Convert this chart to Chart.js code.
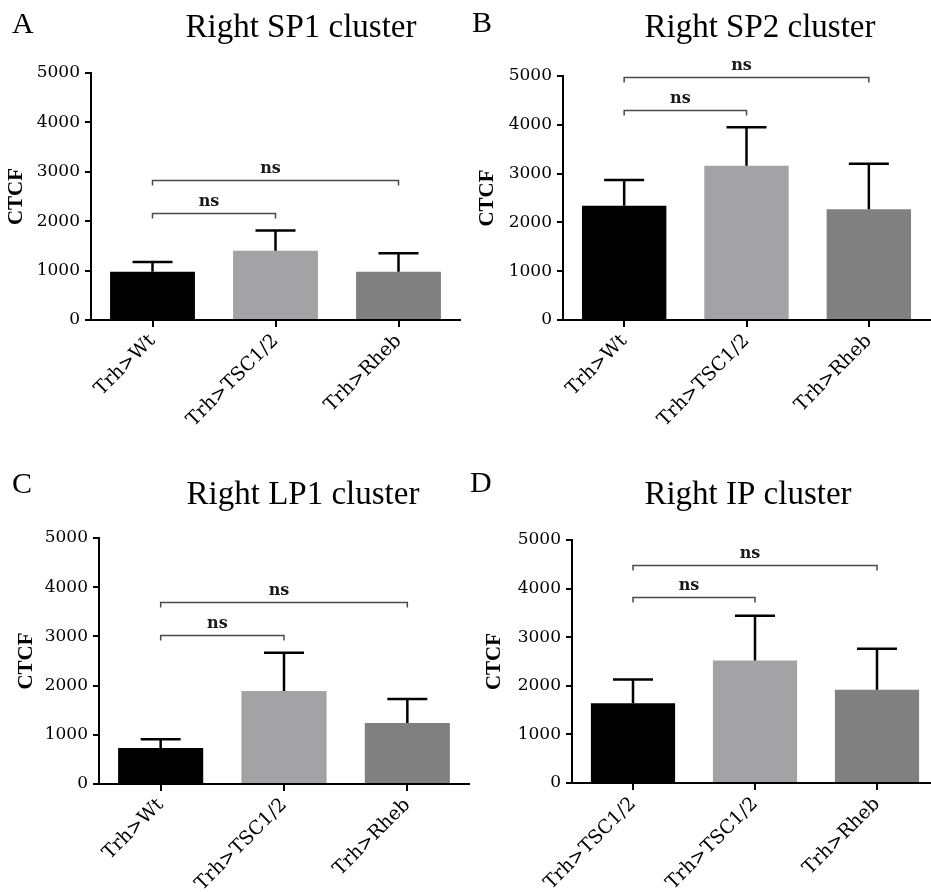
<!DOCTYPE html>
<html>
<head>
<meta charset="utf-8">
<script src="https://cdn.jsdelivr.net/npm/chart.js@4.4.1/dist/chart.umd.min.js"></script>
<style>
  html, body { margin: 0; padding: 0; background: #fff; overflow: hidden; width: 931px; height: 892px; }
  .panel { position: absolute; }
  .panel canvas { display: block; }
</style>
</head>
<body>
<div class="panel" id="boxA"><canvas id="chartA"></canvas></div>
<div class="panel" id="boxB"><canvas id="chartB"></canvas></div>
<div class="panel" id="boxC"><canvas id="chartC"></canvas></div>
<div class="panel" id="boxD"><canvas id="chartD"></canvas></div>
<script>
// ---- data ----
const groupsWt   = ['Trh>Wt', 'Trh>TSC1/2', 'Trh>Rheb'];
const groupsIP   = ['Trh>TSC1/2', 'Trh>TSC1/2', 'Trh>Rheb'];
const yTickValues = [0, 1000, 2000, 3000, 4000, 5000];

// mean CTCF and upward error per group
const sp1Mean = [975, 1400, 975];
const sp1Err  = [200, 410, 375];
const sp2Mean = [2340, 3160, 2270];
const sp2Err  = [530, 790, 930];
const lp1Mean = [730, 1890, 1240];
const lp1Err  = [180, 780, 490];
const ipMean  = [1640, 2520, 1920];
const ipErr   = [490, 920, 840];

// pairwise comparisons: [from group, to group, label]
const comparisons = [[0, 1, 'ns'], [0, 2, 'ns']];
// height (in CTCF units) of each comparison bracket
const sp1Brackets = [2160, 2835];
const sp2Brackets = [4300, 4975];
const lp1Brackets = [3035, 3695];
const ipBrackets  = [3835, 4485];

const barColors = ['#000000', '#a3a3a5', '#808080'];

// ---- panel layout ----
const panels = [
  { id: 'A', title: 'Right SP1 cluster', labels: groupsWt, mean: sp1Mean, err: sp1Err, brackets: sp1Brackets,
    box: { left: 0, top: 0, w: 470, h: 450 }, area: { l: 91, r: 460, t: 73, b: 320 },
    titleAt: { x: 301, y: 37 }, letterAt: { x: 12, y: 33 }, yTitlePad: 4 },
  { id: 'B', title: 'Right SP2 cluster', labels: groupsWt, mean: sp2Mean, err: sp2Err, brackets: sp2Brackets,
    box: { left: 465, top: 0, w: 470, h: 450 }, area: { l: 98, r: 465, t: 76, b: 320 },
    titleAt: { x: 295, y: 37 }, letterAt: { x: 7, y: 32 }, yTitlePad: 10 },
  { id: 'C', title: 'Right LP1 cluster', labels: groupsWt, mean: lp1Mean, err: lp1Err, brackets: lp1Brackets,
    box: { left: 0, top: 450, w: 470, h: 442 }, area: { l: 99, r: 469, t: 88, b: 334 },
    titleAt: { x: 303, y: 54 }, letterAt: { x: 12, y: 43 }, yTitlePad: 14 },
  { id: 'D', title: 'Right IP cluster', labels: groupsIP, mean: ipMean, err: ipErr, brackets: ipBrackets,
    box: { left: 465, top: 450, w: 480, h: 442 }, area: { l: 107, r: 473, t: 90, b: 333 },
    titleAt: { x: 283, y: 54 }, letterAt: { x: 5, y: 42 }, yTitlePad: 17 }
];

// error bars, significance brackets, panel title and letter
const annotate = {
  id: 'annotate',
  afterDatasetsDraw(chart, args, opts) {
    const p = opts.panel;
    const ctx = chart.ctx;
    const xs = chart.scales.x, ys = chart.scales.y;
    const meta = chart.getDatasetMeta(0);

    ctx.save();
    ctx.strokeStyle = '#000';
    ctx.lineWidth = 2.5;
    ctx.lineCap = 'butt';
    p.mean.forEach((m, i) => {
      const bx = meta.data[i].x;
      const y0 = ys.getPixelForValue(m);
      const y1 = ys.getPixelForValue(m + p.err[i]);
      ctx.beginPath();
      ctx.moveTo(bx, y0);
      ctx.lineTo(bx, y1);
      ctx.moveTo(bx - 20, y1);
      ctx.lineTo(bx + 20, y1);
      ctx.stroke();
    });

    ctx.strokeStyle = '#4a4a4a';
    ctx.lineWidth = 1.5;
    ctx.fillStyle = '#1a1a1a';
    ctx.font = 'bold 16px "DejaVu Serif"';
    ctx.textAlign = 'center';
    ctx.textBaseline = 'alphabetic';
    comparisons.forEach(([a, b, txt], k) => {
      const yy = Math.round(ys.getPixelForValue(p.brackets[k])) + 0.5;
      const xa = xs.getPixelForValue(a), xb = xs.getPixelForValue(b);
      ctx.beginPath();
      ctx.moveTo(xa, yy + 5);
      ctx.lineTo(xa, yy);
      ctx.lineTo(xb, yy);
      ctx.lineTo(xb, yy + 5);
      ctx.stroke();
      ctx.fillText(txt, (xa + xb) / 2 - 5, yy - 8);
    });
    ctx.restore();
  },
  afterDraw(chart, args, opts) {
    const p = opts.panel;
    const ctx = chart.ctx;
    ctx.save();
    ctx.fillStyle = '#000';
    ctx.textBaseline = 'alphabetic';
    ctx.font = '33px "Liberation Serif"';
    ctx.textAlign = 'center';
    ctx.fillText(p.title, p.titleAt.x, p.titleAt.y);
    ctx.font = '30px "Liberation Serif"';
    ctx.textAlign = 'left';
    ctx.fillText(p.id, p.letterAt.x, p.letterAt.y);
    ctx.restore();
  }
};

panels.forEach(p => {
  const box = document.getElementById('box' + p.id);
  box.style.left = p.box.left + 'px';
  box.style.top = p.box.top + 'px';
  const canvas = document.getElementById('chart' + p.id);
  canvas.width = p.box.w;
  canvas.height = p.box.h;
  canvas.style.width = p.box.w + 'px';
  canvas.style.height = p.box.h + 'px';

  new Chart(canvas, {
    type: 'bar',
    data: {
      labels: p.labels,
      datasets: [{
        data: p.mean,
        backgroundColor: barColors,
        borderWidth: 0,
        barPercentage: 0.69,
        categoryPercentage: 1.0
      }]
    },
    plugins: [annotate],
    options: {
      responsive: false,
      animation: false,
      devicePixelRatio: 1,
      layout: {
        padding: { left: 0, top: p.area.t, right: p.box.w - p.area.r, bottom: 0 }
      },
      plugins: {
        legend: { display: false },
        tooltip: { enabled: false },
        title: { display: false },
        annotate: { panel: p }
      },
      scales: {
        x: {
          afterFit: s => { s.height = p.box.h - p.area.b; },
          grid: { display: true, drawOnChartArea: false, drawTicks: true, tickLength: 7,
                  color: '#000', lineWidth: 2, offset: false },
          border: { display: true, color: '#000', width: 2 },
          ticks: {
            color: '#000', autoSkip: false, minRotation: 45, maxRotation: 45, padding: 3,
            font: { family: '"DejaVu Serif"', size: 19 }
          }
        },
        y: {
          min: 0, max: 5000,
          afterFit: s => { s.width = p.area.l; },
          afterBuildTicks: s => { s.ticks = yTickValues.map(v => ({ value: v })); },
          grid: { display: true, drawOnChartArea: false, drawTicks: true, tickLength: 6,
                  color: '#000', lineWidth: 2 },
          border: { display: true, color: '#000', width: 2 },
          ticks: {
            color: '#000', padding: 5,
            callback: v => String(v),
            font: { family: '"DejaVu Serif"', size: 17 }
          },
          title: {
            display: true, text: 'CTCF', color: '#000',
            font: { family: '"Liberation Serif"', weight: 'bold', size: 21 },
            padding: { top: p.yTitlePad, bottom: 0 }
          }
        }
      }
    }
  });
});
</script>
</body>
</html>
